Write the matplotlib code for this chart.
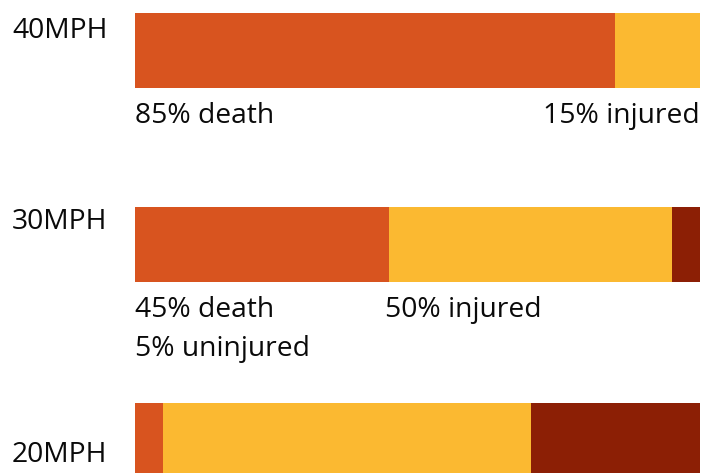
import matplotlib
matplotlib.use("Agg")
import matplotlib.pyplot as plt
import numpy as np

speeds = ["40MPH", "30MPH", "20MPH"]
death = [85, 45, 5]
injured = [15, 50, 65]
uninjured = [0, 5, 30]
labels_left = [["85% death"], ["45% death", "5% uninjured"], []]
labels_mid = [None, "50% injured", None]
labels_right = ["15% injured", None, None]

colors = {"death": "#D8541F", "injured": "#FBB931", "uninjured": "#8C1F05"}

W, H = 719, 473
fig = plt.figure(figsize=(W / 100, H / 100), dpi=100)
ax = fig.add_axes([0, 0, 1, 1])
px_per = (700 - 135) / 100.0
ax.set_xlim(-135 / px_per, (W - 135) / px_per)
ax.set_ylim(H, 0)
ax.axis("off")

ycent = [50.5, 244.5, 440.5]
bh = 75
d = np.array(death); i = np.array(injured); u = np.array(uninjured)
ax.barh(ycent, d, height=bh, left=0, color=colors["death"], linewidth=0)
ax.barh(ycent, i, height=bh, left=d, color=colors["injured"], linewidth=0)
ax.barh(ycent, u, height=bh, left=d + i, color=colors["uninjured"], linewidth=0)

font = dict(family="Open Sans", fontsize=20.3, color="#0a0a0a")
xlab = -123 / px_per
label_base = [38, 229, 462]
for s, yb in zip(speeds, label_base):
    ax.text(xlab, yb, s, va="baseline", ha="left", **font)

for k in range(3):
    base = ycent[k] + bh / 2 + 35
    for j, t in enumerate(labels_left[k]):
        ax.text(0, base + j * 39, t, va="baseline", ha="left", **font)
    if labels_mid[k]:
        ax.text(d[k] - 0.7, base, labels_mid[k], va="baseline", ha="left", **font)
    if labels_right[k]:
        ax.text(100, base, labels_right[k], va="baseline", ha="right", **font)

fig.savefig("out.png", dpi=100)
